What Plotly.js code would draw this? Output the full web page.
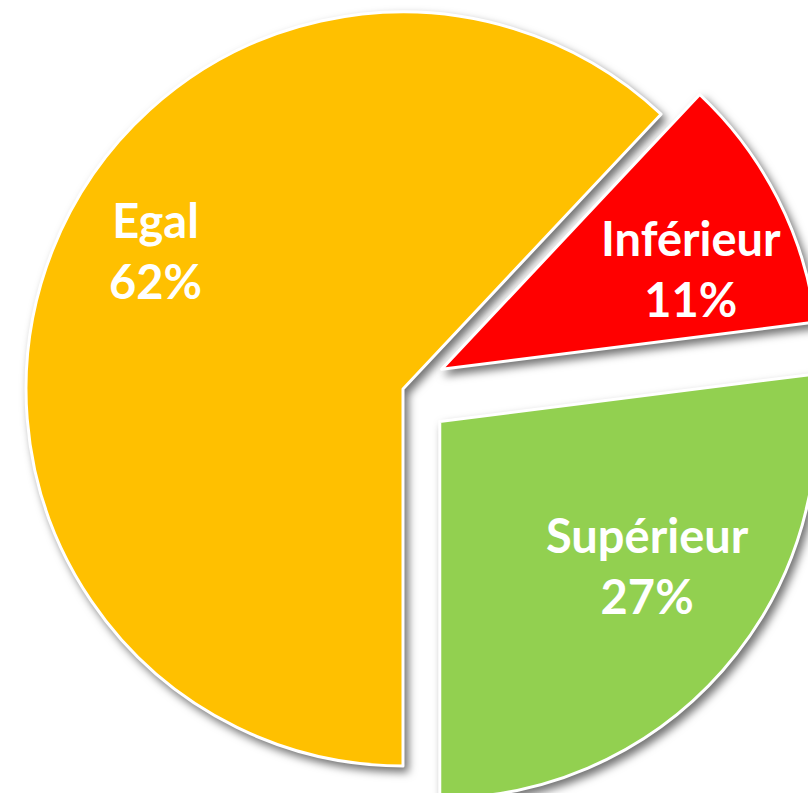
<!DOCTYPE html>
<html lang="fr">
  <head>
    <meta charset="UTF-8" />
    <title>Répartition</title>
    <script src="https://cdn.plot.ly/plotly-3.0.1.min.js"></script>
    <style>
      html, body { margin: 0; padding: 0; overflow: hidden; background: #fff; }
      body { width: 808px; height: 793px; position: relative; }
      #myDiv { position: absolute; left: -23px; top: -37px; }
      /* soft shadow under the slices, like the original */
      #myDiv .slice path.surface { filter: drop-shadow(4px 5px 4px rgba(0, 0, 0, 0.55)); }
    </style>
  </head>
  <body>
    <div id="myDiv"></div>
    <script>
      var labels = ["Egal", "Inférieur", "Supérieur"];
      var values = [62, 11, 27];
      var colors = ["#FFC000", "#FF0000", "#92D050"];

      var W = 852, H = 852, OFFX = 23, OFFY = 37;
      // where the labels sit in the original (page pixels)
      var labelSpots = [[155, 250], [691, 269], [647, 565]];

      var total = values.reduce((a, b) => a + b, 0);

      var data = [
        {
          type: "pie",
          labels: labels,
          values: values,
          sort: false,
          direction: "clockwise",
          rotation: 180,
          pull: [0, 0.115, 0.13],
          marker: { colors: colors, line: { color: "#ffffff", width: 3 } },
          textinfo: "none",
          hoverinfo: "none",
        },
      ];

      var annotations = labels.map(function (lab, i) {
        return {
          xref: "paper",
          yref: "paper",
          x: (labelSpots[i][0] + OFFX) / W,
          y: 1 - (labelSpots[i][1] + OFFY) / H,
          xanchor: "center",
          yanchor: "middle",
          showarrow: false,
          text: lab + "<br>" + Math.round((values[i] / total) * 100) + "%",
          font: { family: "Lato, 'Open Sans', sans-serif", size: 47, color: "#ffffff", weight: "bold" },
        };
      });

      var layout = {
        width: W,
        height: H,
        margin: { l: 0, r: 0, t: 0, b: 0 },
        showlegend: false,
        paper_bgcolor: "#ffffff",
        annotations: annotations,
      };

      Plotly.newPlot("myDiv", data, layout, { displayModeBar: false, staticPlot: true });
    </script>
  </body>
</html>
